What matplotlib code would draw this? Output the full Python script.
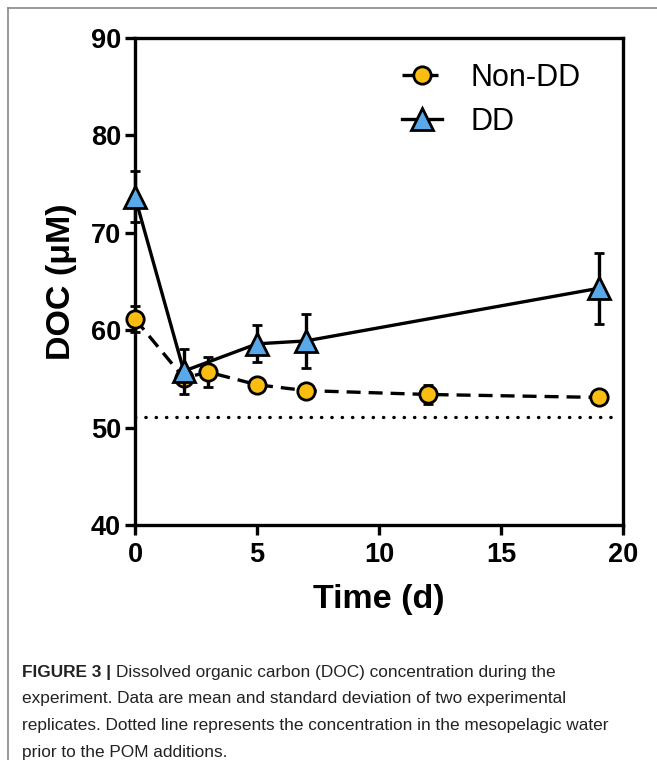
import matplotlib
matplotlib.use("Agg")
import matplotlib.pyplot as plt
from matplotlib import font_manager
from matplotlib.lines import Line2D

# data
time_non_dd = [0, 2, 3, 5, 7, 12, 19]
doc_non_dd = [61.15, 55.1, 55.7, 54.4, 53.8, 53.4, 53.1]
sd_non_dd = [1.3, 0.5, 1.5, 0.5, 0.4, 1.0, 0.4]

time_dd = [0, 2, 5, 7, 19]
doc_dd = [73.7, 55.8, 58.6, 58.9, 64.3]
sd_dd = [2.6, 2.3, 1.9, 2.8, 3.65]

baseline_doc = 51.1
baseline_end = 19.6

orange = "#FBBD12"
blue = "#58A8EA"

plt.rcParams["font.family"] = "Liberation Sans"

fig = plt.figure(figsize=(6.57, 7.60), dpi=100)
ax = fig.add_axes([135 / 657, 1 - 525 / 760, 488 / 657, 487 / 760])

ax.hlines(baseline_doc, 0, baseline_end, colors="black", linewidth=2.4,
          linestyles=(0, (0.1, 3.0)), capstyle="round", zorder=1)

non_dd_style = dict(color="black", linestyle=(0, (4.2, 2.4)), linewidth=2.4,
                    marker="o", markersize=12.5, markerfacecolor=orange,
                    markeredgecolor="black", markeredgewidth=2.0)
dd_style = dict(color="black", linestyle="-", linewidth=2.4, marker="^",
                markersize=16.5, markerfacecolor=blue, markeredgecolor="black",
                markeredgewidth=2.0)

e1 = ax.errorbar(time_non_dd, doc_non_dd, yerr=sd_non_dd, ecolor="black",
                 elinewidth=2.4, capsize=3.5, capthick=2.4, zorder=3,
                 **non_dd_style)
e2 = ax.errorbar(time_dd, doc_dd, yerr=sd_dd, ecolor="black", elinewidth=2.4,
                 capsize=3.5, capthick=2.4, zorder=4, **dd_style)
for cont in (e1, e2):
    cont.lines[0].set_clip_on(False)
    for c in cont.lines[1]:
        c.set_clip_on(False)
    for c in cont.lines[2]:
        c.set_clip_on(False)

ax.set_xlim(0, 20)
ax.set_ylim(40, 90)
ax.set_xticks([0, 5, 10, 15, 20])
ax.set_yticks([40, 50, 60, 70, 80, 90])
for s in ax.spines.values():
    s.set_linewidth(2.4)
ax.tick_params(direction="out", length=7, width=2.4, labelsize=19.5, pad=3)
ax.tick_params(axis="x", pad=5)
for lab in ax.get_xticklabels() + ax.get_yticklabels():
    lab.set_fontweight("bold")
ax.set_xlabel("Time (d)", fontsize=24.5, fontweight="bold", labelpad=12)
ax.set_ylabel("DOC (μM)", fontsize=24.5, fontweight="bold", labelpad=10)

handles = [Line2D([], [], **non_dd_style), Line2D([], [], **dd_style)]
ax.legend(handles, ["Non-DD", "DD"], loc="upper right",
          bbox_to_anchor=(0.97, 1.005), frameon=False, fontsize=22,
          handlelength=1.3, handletextpad=0.95, labelspacing=0.45)

# thin grey frame around the panel (cut at the right and bottom edges)
fig.add_artist(Line2D([8 / 657, 1], [1 - 8 / 760, 1 - 8 / 760],
                      color="#888888", linewidth=1.2, transform=fig.transFigure))
fig.add_artist(Line2D([8 / 657, 8 / 657], [0, 1 - 8 / 760],
                      color="#888888", linewidth=1.2, transform=fig.transFigure))

# caption
try:
    font_manager.findfont("Liberation Sans Narrow", fallback_to_default=False)
    cap_family, cap_size = "Liberation Sans Narrow", 14.2
except Exception:
    cap_family, cap_size = "Liberation Sans", 12.45

caption = [
    "Dissolved organic carbon (DOC) concentration during the",
    "experiment. Data are mean and standard deviation of two experimental",
    "replicates. Dotted line represents the concentration in the mesopelagic water",
    "prior to the POM additions.",
]
x0 = 22 / 657
baselines = [677, 703.5, 730, 756.5]
head = fig.text(x0, 1 - baselines[0] / 760, "FIGURE 3 | ", family=cap_family,
                fontsize=cap_size, fontweight="bold", color="#222222",
                va="baseline")
fig.canvas.draw()
bb = head.get_window_extent(renderer=fig.canvas.get_renderer())
fig.text(bb.x1 / fig.bbox.width, 1 - baselines[0] / 760, caption[0],
         family=cap_family, fontsize=cap_size, color="#222222", va="baseline")
for line, yb in zip(caption[1:], baselines[1:]):
    fig.text(x0, 1 - yb / 760, line, family=cap_family, fontsize=cap_size,
             color="#222222", va="baseline")

fig.savefig("out.png", dpi=100)
